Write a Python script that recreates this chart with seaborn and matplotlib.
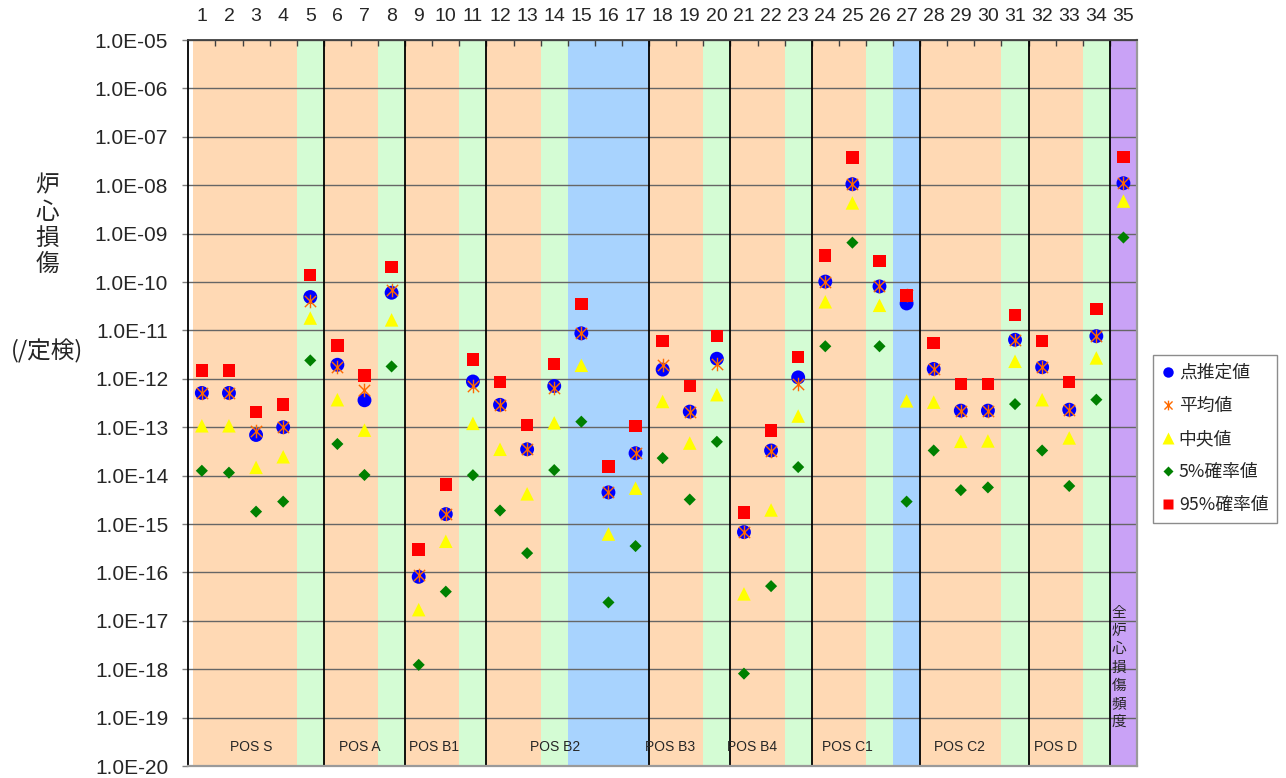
import numpy as np
import pandas as pd
import matplotlib
matplotlib.use("Agg")
import matplotlib.pyplot as plt
import seaborn as sns
from matplotlib.path import Path
from matplotlib.lines import Line2D
from matplotlib.ticker import NullLocator

# ---------------- data ----------------
positions = list(range(1, 36))
point_est = [5.1e-13, 5.1e-13, 6.9e-14, 1.0e-13, 4.9e-11, 1.95e-12, 3.6e-13, 6.0e-11,
             8.1e-17, 1.6e-15, 8.8e-13, 2.9e-13, 3.5e-14, 7.1e-13, 8.7e-12, 4.5e-15,
             2.9e-14, 1.55e-12, 2.1e-13, 2.6e-12, 6.8e-16, 3.3e-14, 1.07e-12, 1.02e-10,
             1.05e-8, 8.1e-11, 3.6e-11, 1.6e-12, 2.2e-13, 2.2e-13, 6.4e-12, 1.74e-12,
             2.3e-13, 7.6e-12, 1.1e-8]
mean_val = [5.1e-13, 5.1e-13, 8.5e-14, 1.0e-13, 4.1e-11, 1.75e-12, 5.9e-13, 6.7e-11,
            9.0e-17, 1.6e-15, 7.2e-13, 2.9e-13, 3.5e-14, 6.6e-13, 8.7e-12, 4.5e-15,
            3.0e-14, 1.9e-12, 2.1e-13, 2.0e-12, 6.8e-16, 3.3e-14, 7.9e-13, 1.02e-10,
            1.05e-8, 8.1e-11, 5.3e-11, 1.6e-12, 2.2e-13, 2.2e-13, 6.4e-12, 1.74e-12,
            2.3e-13, 7.6e-12, 1.1e-8]
median_val = [1.07e-13, 1.07e-13, 1.48e-14, 2.45e-14, 1.8e-11, 3.7e-13, 8.7e-14, 1.65e-11,
              1.7e-17, 4.4e-16, 1.2e-13, 3.5e-14, 4.2e-15, 1.23e-13, 1.9e-12, 6.2e-16,
              5.5e-15, 3.4e-13, 4.7e-14, 4.7e-13, 3.6e-17, 1.95e-15, 1.7e-13, 3.9e-11,
              4.3e-9, 3.3e-11, 3.5e-13, 3.3e-13, 5.1e-14, 5.2e-14, 2.3e-12, 3.7e-13,
              6.0e-14, 2.7e-12, 4.7e-9]
p05 = [1.26e-14, 1.15e-14, 1.8e-15, 2.9e-15, 2.4e-12, 4.5e-14, 1.03e-14, 1.8e-12,
       1.23e-18, 4.0e-17, 1.02e-14, 1.9e-15, 2.5e-16, 1.3e-14, 1.3e-13, 2.4e-17,
       3.5e-16, 2.3e-14, 3.2e-15, 5.0e-14, 8.1e-19, 5.2e-17, 1.5e-14, 4.7e-12,
       6.5e-10, 4.7e-12, 2.9e-15, 3.3e-14, 5.0e-15, 5.7e-15, 3.0e-13, 3.3e-14,
       6.1e-15, 3.7e-13, 8.3e-10]
p95 = [1.49e-12, 1.49e-12, 2.04e-13, 2.95e-13, 1.38e-10, 4.9e-12, 1.17e-12, 2.05e-10,
       2.95e-16, 6.5e-15, 2.5e-12, 8.5e-13, 1.12e-13, 2.0e-12, 3.5e-11, 1.55e-14,
       1.07e-13, 6.0e-12, 7.1e-13, 7.6e-12, 1.74e-15, 8.5e-14, 2.8e-12, 3.55e-10,
       3.7e-8, 2.7e-10, 5.3e-11, 5.5e-12, 7.9e-13, 7.9e-13, 2.1e-11, 6.0e-12,
       8.5e-13, 2.8e-11, 3.8e-8]

# background kind of each column: O=orange, G=green, B=blue, P=purple
col_kind = list("OOOOG" "OOG" "OOG" "OOG" "BBB" "OOG" "OOG" "OOGB" "OOOG" "OOG" "P")
group_labels = ["POS S", "POS A", "POS B1", "POS B2", "POS B3", "POS B4", "POS C1", "POS C2", "POS D"]
group_last = [5, 8, 11, 17, 20, 23, 27, 31, 34]
group_label_x = [2.82, 6.81, 9.56, 14.04, 18.26, 21.3, 24.83, 28.94, 32.48]

ytick_vals = [1e-20, 1e-19, 1e-18, 1e-17, 1e-16, 1e-15, 1e-14, 1e-13, 1e-12,
              1e-11, 1e-10, 1e-9, 1e-8, 1e-7, 1e-6, 1e-5]
ytick_labels = ["1.0E-20", "1.0E-19", "1.0E-18", "1.0E-17", "1.0E-16", "1.0E-15",
                "1.0E-14", "1.0E-13", "1.0E-12", "1.0E-11", "1.0E-10", "1.0E-09",
                "1.0E-08", "1.0E-07", "1.0E-06", "1.0E-05"]
xtick_labels = [str(p) for p in positions]
series_names = ["点推定値", "平均値", "中央値", "5%確率値", "95%確率値"]

# ---------------- style ----------------
sns.set_style("white")
plt.rcParams["font.family"] = ["Liberation Sans", "Noto Sans CJK JP", "DejaVu Sans"]
cjk = ["Noto Sans CJK JP", "DejaVu Sans"]

bg_colors = {"O": "#FFD9B4", "G": "#D4FCD4", "B": "#A8D3FE", "P": "#C9A2F6"}
c_point, c_mean, c_med, c_p5, c_p95 = "#0000FF", "#FF6A00", "#FFFF00", "#008000", "#FF0000"

star_path = Path([(-1, -1), (1, 1), (-1, 1), (1, -1), (0, -1.2), (0, 1.2)],
                 [Path.MOVETO, Path.LINETO, Path.MOVETO, Path.LINETO, Path.MOVETO, Path.LINETO])

W, H = 1286, 778
fig = plt.figure(figsize=(W / 100, H / 100), dpi=100)
L, R, T, B = 188.3, 1137.0, 40.0, 766.0
ax = fig.add_axes([L / W, 1 - B / H, (R - L) / W, (B - T) / H])

df = pd.DataFrame({"pos": positions, "point": point_est, "mean": mean_val,
                   "median": median_val, "p05": p05, "p95": p95})

# backgrounds
for i, k in enumerate(col_kind):
    x0, x1 = positions[i] - 0.5, positions[i] + 0.5
    if i == 0:
        x0 += 0.17
    ax.axvspan(x0, x1, color=bg_colors[k], lw=0, zorder=0)

# group separators
for g in group_last:
    ax.axvline(g + 0.5, color="black", lw=1.3, zorder=2)

# markers
sns.scatterplot(data=df, x="pos", y="point", marker="o", s=100, color=c_point,
                edgecolor="none", linewidth=0, ax=ax, zorder=3, legend=False)
sns.scatterplot(data=df, x="pos", y="mean", marker=star_path, s=95, color=c_mean,
                edgecolor=c_mean, linewidth=1.0, ax=ax, zorder=4, legend=False)
sns.scatterplot(data=df, x="pos", y="median", marker="^", s=95, color=c_med,
                edgecolor="none", linewidth=0, ax=ax, zorder=5, legend=False)
sns.scatterplot(data=df, x="pos", y="p05", marker="D", s=38, color=c_p5,
                edgecolor="none", linewidth=0, ax=ax, zorder=6, legend=False)
sns.scatterplot(data=df, x="pos", y="p95", marker="s", s=80, color=c_p95,
                edgecolor="none", linewidth=0, ax=ax, zorder=7, legend=False)

ax.set_yscale("log")
ax.set_ylim(1e-20, 1e-5)
ax.set_xlim(0.5, 35.5)
ax.set_xlabel("")
ax.set_ylabel("")

# y ticks / grid
ax.set_yticks(ytick_vals, ytick_labels)
ax.yaxis.set_minor_locator(NullLocator())
ax.tick_params(axis="y", which="major", direction="out", length=4.5, width=1,
               color="#808080", pad=10, labelsize=15, left=True, right=False)
ax.grid(axis="y", color="#666666", lw=1.0)
ax.grid(axis="x", visible=False)
ax.set_axisbelow("line")

# x ticks on top
ax.xaxis.tick_top()
ax.set_xticks(positions, xtick_labels)
ax.set_xticks([p + 0.5 for p in positions[:-1]], minor=True)
ax.tick_params(axis="x", which="major", length=0, pad=11, labelsize=14,
               top=True, bottom=False, labeltop=True, labelbottom=False)
ax.tick_params(axis="x", which="minor", direction="in", length=4.5, width=1,
               color="#404040", top=True, bottom=False)

for side, col, lw in [("left", "black", 1.3), ("top", "#404040", 1.3),
                      ("right", "#9A9A9A", 1.6), ("bottom", "#9A9A9A", 1.6)]:
    ax.spines[side].set_visible(True)
    ax.spines[side].set_color(col)
    ax.spines[side].set_linewidth(lw)

# group labels
for lab, gx in zip(group_labels, group_label_x):
    ax.text(gx, 10 ** -19.61, lab, ha="center", va="center", fontsize=10, zorder=8)

# vertical text in column 35
vt = "全炉心損傷頻度"
for j, ch in enumerate(vt):
    py = 613 + j * 18.2
    fig.text(1119 / W, 1 - py / H, ch, ha="center", va="center", fontsize=10.5, family=cjk)

# y label
for j, ch in enumerate("炉心損傷"):
    py = 186 + j * 26.2
    fig.text(47.5 / W, 1 - py / H, ch, ha="center", va="center", fontsize=17, family=cjk)
fig.text(47 / W, 1 - 351 / H, "(/定検)", ha="center", va="center", fontsize=17, family=cjk)

# legend
handles = [
    Line2D([], [], ls="none", marker="o", markersize=7.5, markerfacecolor=c_point, markeredgecolor="none"),
    Line2D([], [], ls="none", marker=star_path, markersize=7, markerfacecolor="none",
           markeredgecolor=c_mean, markeredgewidth=1.0),
    Line2D([], [], ls="none", marker="^", markersize=8, markerfacecolor=c_med, markeredgecolor="none"),
    Line2D([], [], ls="none", marker="D", markersize=5, markerfacecolor=c_p5, markeredgecolor="none"),
    Line2D([], [], ls="none", marker="s", markersize=7, markerfacecolor=c_p95, markeredgecolor="none"),
]
leg = fig.legend(handles, series_names, loc="upper left",
                 bbox_to_anchor=(1153 / W, 1 - 355 / H), frameon=True, fancybox=False,
                 edgecolor="#8C8C8C", framealpha=1, borderaxespad=0, borderpad=0.5,
                 handlelength=0.7, handletextpad=0.25, labelspacing=0.85,
                 prop={"family": cjk, "size": 12.8})
leg.get_frame().set_linewidth(1.0)

fig.savefig("out.png", dpi=100)
